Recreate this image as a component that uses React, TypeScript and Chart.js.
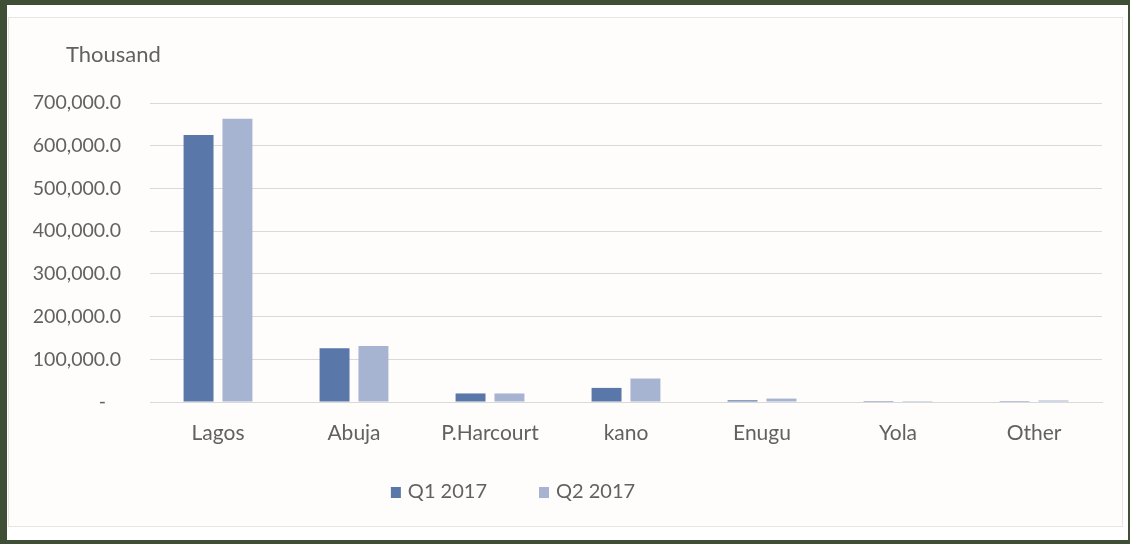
import React, { useEffect, useRef } from "react";
import { Chart, registerables } from "chart.js";

Chart.register(...registerables);

const categories = ["Lagos", "Abuja", "P.Harcourt", "kano", "Enugu", "Yola", "Other"];
const q1Values = [625000, 126000, 20000, 33000, 4000, 100, 200];
const q2Values = [663000, 131000, 20000, 55000, 8000, 100, 3500];
const seriesLabels = ["Q1 2017", "Q2 2017"];
const seriesColors = ["#5a77a9", "#a7b4d1"];
const unitLabel = "Thousand";
const zeroTickLabel = "-   ";

const FONT = "Lato, 'Open Sans', sans-serif";
const TEXT = "#616161";

function formatTick(v: number): string {
  if (v === 0) return zeroTickLabel;
  const s = Math.round(v).toString().replace(/\B(?=(\d{3})+(?!\d))/g, ",");
  return s + ".0";
}

const overlayPlugin = {
  id: "overlay",
  afterDraw(chart: any) {
    const ctx = chart.ctx as CanvasRenderingContext2D;
    ctx.save();
    ctx.fillStyle = TEXT;
    ctx.font = `22px ${FONT}`;
    ctx.textBaseline = "middle";
    ctx.textAlign = "left";
    ctx.fillText(unitLabel, 66, 55);

    // legend
    const ds = chart.data.datasets;
    ctx.font = `20px ${FONT}`;
    const box = 10;
    const gapText = 7;
    const gapItem = 52;
    const widths = ds.map((d: any) => box + gapText + ctx.measureText(d.label).width);
    const total = widths.reduce((a: number, b: number) => a + b, 0) + gapItem * (ds.length - 1);
    const centerX = 513;
    const y = 492;
    let x = centerX - total / 2;
    ds.forEach((d: any, i: number) => {
      ctx.fillStyle = d.backgroundColor;
      ctx.fillRect(x, y - box / 2, box, box + 1);
      ctx.fillStyle = TEXT;
      ctx.fillText(d.label, x + box + gapText, y);
      x += widths[i] + gapItem;
    });
    ctx.restore();
  },
};

export default function App() {
  const ref = useRef<HTMLCanvasElement | null>(null);

  useEffect(() => {
    if (!ref.current) return;
    const chart = new Chart(ref.current, {
      type: "bar",
      data: {
        labels: categories,
        datasets: [
          {
            label: seriesLabels[0],
            data: q1Values,
            backgroundColor: seriesColors[0],
            categoryPercentage: 0.572,
            barPercentage: 0.77,
          },
          {
            label: seriesLabels[1],
            data: q2Values,
            backgroundColor: seriesColors[1],
            categoryPercentage: 0.572,
            barPercentage: 0.77,
          },
        ],
      },
      options: {
        responsive: false,
        animation: false,
        devicePixelRatio: 1,
        layout: { padding: { left: 0, top: 103, right: 28, bottom: 0 } },
        plugins: {
          legend: { display: false },
          tooltip: { enabled: false },
          title: { display: false },
        },
        scales: {
          x: {
            grid: { display: false, drawTicks: false },
            border: { display: true, color: "#d9d9d9", width: 1 },
            ticks: {
              color: TEXT,
              font: { family: FONT, size: 21 },
              padding: 19,
              maxRotation: 0,
              autoSkip: false,
            },
            afterFit: (s: any) => {
              s.height = 142;
            },
          },
          y: {
            min: 0,
            max: 700000,
            grid: { color: "#d9d9d9", drawTicks: false },
            border: { display: false },
            ticks: {
              stepSize: 100000,
              color: TEXT,
              font: { family: FONT, size: 19.5 },
              padding: 29,
              callback: (v: any) => formatTick(Number(v)),
            },
            afterFit: (s: any) => {
              s.width = 150;
            },
          },
        },
      },
      plugins: [overlayPlugin],
    });
    return () => chart.destroy();
  }, []);

  return (
    <div
      style={{
        position: "fixed",
        left: 0,
        top: 0,
        width: 1130,
        height: 544,
        background: "#3e4f35",
        overflow: "hidden",
      }}
    >
      <div
        style={{
          position: "absolute",
          left: 7,
          top: 5,
          width: 1121,
          height: 535,
          background: "#ffffff",
        }}
      />
      <div
        style={{
          position: "absolute",
          left: 8,
          top: 17,
          width: 1113,
          height: 508,
          background: "#fefdfb",
          border: "1px solid #e8e5e1",
        }}
      />
      <canvas
        ref={ref}
        width={1130}
        height={544}
        style={{ position: "absolute", left: 0, top: 0, width: 1130, height: 544 }}
      />
    </div>
  );
}
